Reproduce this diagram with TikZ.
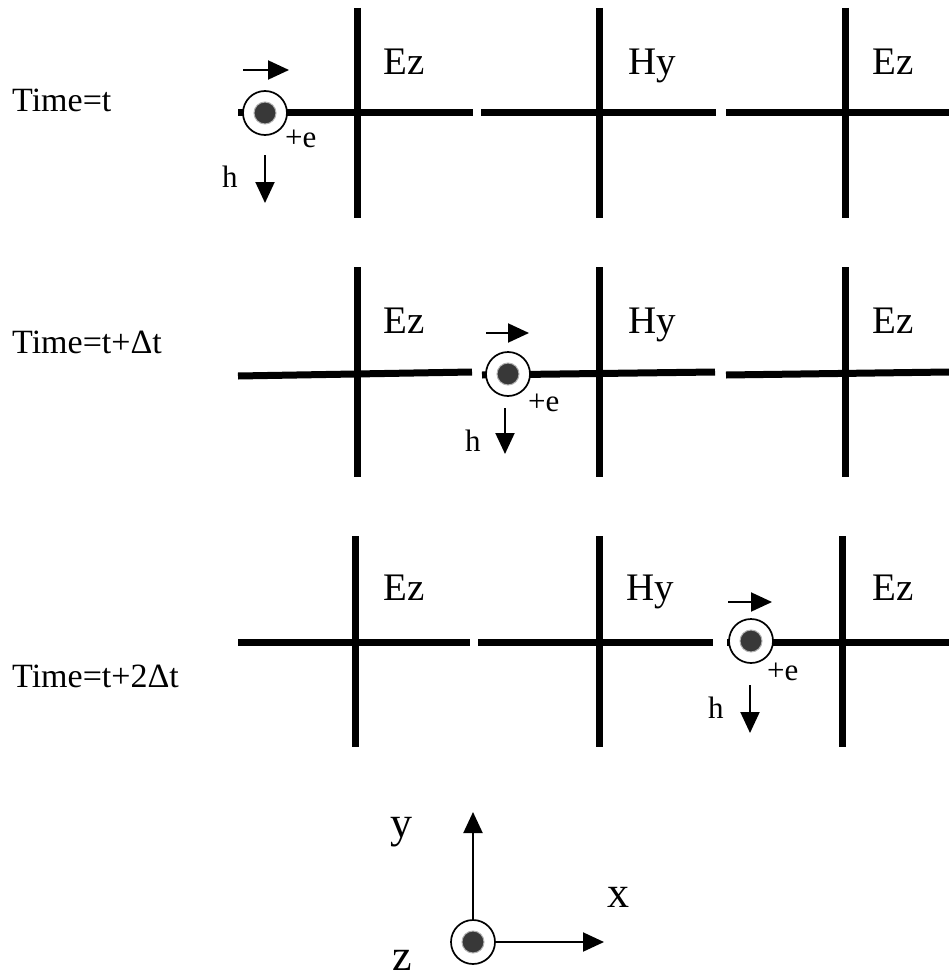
\documentclass[tikz,border=0pt]{standalone}
\usepackage{fontspec}
\setmainfont{Liberation Serif}
\usetikzlibrary{arrows.meta}
\begin{document}
\begin{tikzpicture}[x=1pt,y=-1pt,
  gridline/.style={line width=7pt},
  thinarrow/.style={line width=2pt,-{Triangle[length=21pt,width=19pt]}},
  eouter/.style={circle,draw,line width=1.7pt,fill=white,minimum size=44pt,inner sep=0pt},
  einner/.style={circle,fill=black!78,draw=black!30,line width=1pt,minimum size=22pt,inner sep=0pt},
  timelbl/.style={anchor=base west,inner sep=0pt,font=\fontsize{34}{40}\selectfont},
  fieldlbl/.style={anchor=base west,inner sep=0pt,font=\fontsize{39}{44}\selectfont},
  smalllbl/.style={anchor=base west,inner sep=0pt,font=\fontsize{31}{35}\selectfont},
  axislbl/.style={anchor=base west,inner sep=0pt,font=\fontsize{44}{50}\selectfont}]
\useasboundingbox (0,0) rectangle (949,979);

% ---------------- Row 1 : Time = t ----------------
\node[timelbl] (t1) at (12,112) {Time=t};
\coordinate (r1a) at (238,113); \coordinate (r1b) at (473,113);
\coordinate (r1c) at (481,113); \coordinate (r1d) at (716,113);
\coordinate (r1e) at (726,113); \coordinate (r1f) at (949,113);
\draw[gridline] (r1a) -- (r1b);
\draw[gridline] (r1c) -- (r1d);
\draw[gridline] (r1e) -- (r1f);
\coordinate (r1v1t) at (357,8);   \coordinate (r1v1b) at (357,218);
\coordinate (r1v2t) at (599,8);   \coordinate (r1v2b) at (599,218);
\coordinate (r1v3t) at (845,8);   \coordinate (r1v3b) at (845,218);
\draw[gridline] (r1v1t) -- (r1v1b);
\draw[gridline] (r1v2t) -- (r1v2b);
\draw[gridline] (r1v3t) -- (r1v3b);
\node[fieldlbl] (r1ez1) at (383,75) {Ez};
\node[fieldlbl] (r1hy) at (628,75) {Hy};
\node[fieldlbl] (r1ez2) at (872,75) {Ez};
\node[eouter] (e1) at (265,113) {};
\node[einner] (e1d) at (e1) {};
\coordinate (e1as) at (243,70); \coordinate (e1ae) at (289,70);
\draw[thinarrow] (e1as) -- (e1ae);
\coordinate (h1as) at (265,155); \coordinate (h1ae) at (265,203);
\draw[thinarrow] (h1as) -- (h1ae);
\node[smalllbl] (pe1) at (285,147) {+e};
\node[smalllbl] (h1) at (222,187) {h};

% ---------------- Row 2 : Time = t + Delta t ----------------
\node[timelbl] (t2) at (12,353) {Time=t+Δt};
\coordinate (r2a) at (238,376); \coordinate (r2b) at (472,372);
\coordinate (r2c) at (482,375); \coordinate (r2d) at (715,372);
\coordinate (r2e) at (726,375); \coordinate (r2f) at (949,372);
\draw[gridline] (r2a) -- (r2b);
\draw[gridline] (r2c) -- (r2d);
\draw[gridline] (r2e) -- (r2f);
\coordinate (r2v1t) at (357,267); \coordinate (r2v1b) at (357,477);
\coordinate (r2v2t) at (599,267); \coordinate (r2v2b) at (599,477);
\coordinate (r2v3t) at (845,267); \coordinate (r2v3b) at (845,477);
\draw[gridline] (r2v1t) -- (r2v1b);
\draw[gridline] (r2v2t) -- (r2v2b);
\draw[gridline] (r2v3t) -- (r2v3b);
\node[fieldlbl] (r2ez1) at (383,333) {Ez};
\node[fieldlbl] (r2hy) at (628,333) {Hy};
\node[fieldlbl] (r2ez2) at (872,333) {Ez};
\node[eouter] (e2) at (508,374) {};
\node[einner] (e2d) at (e2) {};
\coordinate (e2as) at (486,333); \coordinate (e2ae) at (529,333);
\draw[thinarrow] (e2as) -- (e2ae);
\coordinate (h2as) at (505,408); \coordinate (h2ae) at (505,454);
\draw[thinarrow] (h2as) -- (h2ae);
\node[smalllbl] (pe2) at (528,411) {+e};
\node[smalllbl] (h2) at (465,451) {h};

% ---------------- Row 3 : Time = t + 2 Delta t ----------------
\node[timelbl] (t3) at (12,687) {Time=t+2Δt};
\coordinate (r3a) at (238,642); \coordinate (r3b) at (470,642);
\coordinate (r3c) at (478,642); \coordinate (r3d) at (713,642);
\coordinate (r3e) at (727,642); \coordinate (r3f) at (949,642);
\draw[gridline] (r3a) -- (r3b);
\draw[gridline] (r3c) -- (r3d);
\draw[gridline] (r3e) -- (r3f);
\coordinate (r3v1t) at (355,536); \coordinate (r3v1b) at (355,747);
\coordinate (r3v2t) at (599,536); \coordinate (r3v2b) at (599,747);
\coordinate (r3v3t) at (842,536); \coordinate (r3v3b) at (842,747);
\draw[gridline] (r3v1t) -- (r3v1b);
\draw[gridline] (r3v2t) -- (r3v2b);
\draw[gridline] (r3v3t) -- (r3v3b);
\node[fieldlbl] (r3ez1) at (383,600) {Ez};
\node[fieldlbl] (r3hy) at (626,600) {Hy};
\node[fieldlbl] (r3ez2) at (872,600) {Ez};
\node[eouter] (e3) at (751,641) {};
\node[einner] (e3d) at (e3) {};
\coordinate (e3as) at (728,602); \coordinate (e3ae) at (772,602);
\draw[thinarrow] (e3as) -- (e3ae);
\coordinate (h3as) at (750,685); \coordinate (h3ae) at (750,733);
\draw[thinarrow] (h3as) -- (h3ae);
\node[smalllbl] (pe3) at (767,680) {+e};
\node[smalllbl] (h3) at (708,718) {h};

% ---------------- Axes ----------------
\node[eouter] (ax) at (473,942) {};
\node[einner] (axd) at (ax) {};
\coordinate (ytip) at (473,812);
\coordinate (xtip) at (604,942);
\draw[thinarrow] (ax.north) -- (ytip);
\draw[thinarrow] (ax.east) -- (xtip);
\node[axislbl] (ylbl) at (390,837) {y};
\node[axislbl] (xlbl) at (607,907) {x};
\node[axislbl] (zlbl) at (392,970) {z};
\end{tikzpicture}
\end{document}
